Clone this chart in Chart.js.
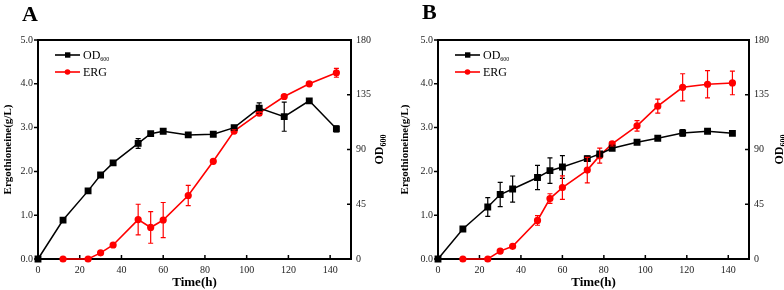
<!DOCTYPE html>
<html>
<head>
<meta charset="utf-8">
<script src="https://cdn.jsdelivr.net/npm/chart.js@4.4.1/dist/chart.umd.min.js"></script>
<style>
body { margin: 0; background: #fff; }
.panel { position: absolute; top: 0; width: 392px; height: 290px; }
#pa { left: 0; }
#pb { left: 392px; }
.tag { position: absolute; font: bold 22px "Liberation Serif", serif; line-height: 1; }
</style>
</head>
<body>
<div class="panel" id="pa"><canvas id="ca" width="392" height="290"></canvas></div>
<div class="panel" id="pb"><canvas id="cb" width="392" height="290"></canvas></div>
<div class="tag" style="left:22px;top:3px">A</div>
<div class="tag" style="left:422px;top:1px">B</div>
<script>
// Panel A data
const timeA_OD = [0, 12, 24, 30, 36, 48, 54, 60, 72, 84, 94, 106, 118, 130, 143];
const odA = [0, 32, 56, 69, 79, 95, 103, 105, 102, 102.5, 108, 124, 117, 130, 107];
const odA_err = [0, 2, 1, 1, 1.5, 4, 1, 1, 1, 1.5, 1.5, 4.4, 12, 1, 2.5];
const timeA_ERG = [12, 24, 30, 36, 48, 54, 60, 72, 84, 94, 106, 118, 130, 143];
const ergA = [0, 0, 0.14, 0.32, 0.90, 0.72, 0.89, 1.45, 2.23, 2.92, 3.33, 3.71, 4.00, 4.25];
const ergA_err = [0, 0, 0.04, 0.04, 0.35, 0.36, 0.40, 0.23, 0.02, 0.03, 0.03, 0.04, 0.05, 0.10];

// Panel B data
const timeB_OD = [0, 12, 24, 30, 36, 48, 54, 60, 72, 78, 84, 96, 106, 118, 130, 142];
const odB = [0, 24.7, 42.7, 53, 57.5, 67, 72.6, 75.6, 82.5, 86.3, 91, 96, 99.2, 103.6, 105, 103.3];
const odB_err = [0, 1, 7.7, 10, 10.7, 10, 10.5, 9.3, 2, 2, 1.5, 1, 1, 2.7, 0.5, 0.5];
const timeB_ERG = [12, 24, 30, 36, 48, 54, 60, 72, 78, 84, 96, 106, 118, 130, 142];
const ergB = [0, 0, 0.18, 0.29, 0.88, 1.38, 1.63, 2.03, 2.36, 2.63, 3.04, 3.49, 3.92, 3.99, 4.02];
const ergB_err = [0, 0, 0.04, 0.03, 0.11, 0.11, 0.27, 0.29, 0.17, 0.05, 0.12, 0.16, 0.31, 0.31, 0.27];

// Axis ticks
const timeTicks = [0, 20, 40, 60, 80, 100, 120, 140];
const ergTicks = [0, 1, 2, 3, 4, 5];
const odTicks = [0, 45, 90, 135, 180];

const SERIF = '"Liberation Serif", "Times New Roman", serif';

function pts(xs, ys) {
    return xs.map((x, i) => ({ x: x, y: ys[i] }));
}

// frame, ticks, error bars, legend, right title
const decor = {
    id: 'decor',
    beforeDatasetsDraw(chart) {
        const { ctx, chartArea: a, scales } = chart;
        ctx.save();
        ctx.strokeStyle = '#000';
        ctx.lineWidth = 2;
        ctx.strokeRect(a.left, a.top, a.right - a.left, a.bottom - a.top);
        ctx.lineWidth = 1.5;
        ctx.beginPath();
        timeTicks.forEach(t => {
            const x = scales.x.getPixelForValue(t);
            ctx.moveTo(x, a.bottom); ctx.lineTo(x, a.bottom - 4);
        });
        ergTicks.forEach(t => {
            const y = scales.y.getPixelForValue(t);
            ctx.moveTo(a.left, y); ctx.lineTo(a.left - 4, y);
        });
        odTicks.forEach(t => {
            const y = scales.y1.getPixelForValue(t);
            ctx.moveTo(a.right, y); ctx.lineTo(a.right - 4, y);
        });
        ctx.stroke();
        ctx.restore();
    },
    afterDatasetsDraw(chart) {
        const { ctx, chartArea: a, scales } = chart;
        ctx.save();
        chart.data.datasets.forEach(ds => {
            const ys = scales[ds.yAxisID];
            ctx.strokeStyle = ds.borderColor;
            ctx.lineWidth = 1.2;
            ctx.beginPath();
            ds.data.forEach((p, j) => {
                const e = ds.err[j];
                if (!e) return;
                const x = scales.x.getPixelForValue(p.x);
                const yt = ys.getPixelForValue(p.y + e);
                const yb = ys.getPixelForValue(p.y - e);
                ctx.moveTo(x, yt); ctx.lineTo(x, yb);
                ctx.moveTo(x - 2.5, yt); ctx.lineTo(x + 2.5, yt);
                ctx.moveTo(x - 2.5, yb); ctx.lineTo(x + 2.5, yb);
            });
            ctx.stroke();
        });

        // legend
        const lx = a.left + 17;
        const rows = [
            { color: '#000', style: 'rect', y: a.top + 15, text: 'OD', sub: '600' },
            { color: '#ff0000', style: 'circle', y: a.top + 32, text: 'ERG', sub: '' }
        ];
        rows.forEach(r => {
            ctx.strokeStyle = r.color;
            ctx.fillStyle = r.color;
            ctx.lineWidth = 1.6;
            ctx.beginPath();
            ctx.moveTo(lx, r.y); ctx.lineTo(lx + 25, r.y);
            ctx.stroke();
            if (r.style === 'rect') {
                ctx.fillRect(lx + 10, r.y - 2.7, 5.4, 5.4);
            } else {
                ctx.beginPath();
                ctx.arc(lx + 12.5, r.y, 2.8, 0, Math.PI * 2);
                ctx.fill();
            }
            ctx.fillStyle = '#000';
            ctx.font = '12px ' + SERIF;
            ctx.textBaseline = 'middle';
            ctx.textAlign = 'left';
            ctx.fillText(r.text, lx + 28, r.y + 1);
            if (r.sub) {
                const w = ctx.measureText(r.text).width;
                ctx.font = '6px ' + SERIF;
                ctx.fillText(r.sub, lx + 28 + w, r.y + 4);
            }
        });

        // right axis title OD600
        const opt = chart.options.plugins.decor;
        ctx.translate(a.right + opt.rightTitleOffset, (a.top + a.bottom) / 2);
        ctx.rotate(-Math.PI / 2);
        ctx.fillStyle = '#000';
        ctx.font = 'bold 12px ' + SERIF;
        ctx.textBaseline = 'middle';
        const w1 = ctx.measureText('OD').width;
        ctx.font = 'bold 8px ' + SERIF;
        const w2 = ctx.measureText('600').width;
        const sx = -(w1 + w2) / 2;
        ctx.font = 'bold 12px ' + SERIF;
        ctx.textAlign = 'left';
        ctx.fillText('OD', sx, 0);
        ctx.font = 'bold 8px ' + SERIF;
        ctx.fillText('600', sx + w1, 4);
        ctx.restore();
    }
};

function makeChart(id, tOD, od, odErr, tERG, erg, ergErr, layout) {
    const ctx = document.getElementById(id).getContext('2d');
    return new Chart(ctx, {
        type: 'line',
        data: {
            datasets: [
                {
                    label: 'OD600',
                    data: pts(tOD, od),
                    err: odErr,
                    yAxisID: 'y1',
                    borderColor: '#000',
                    backgroundColor: '#000',
                    borderWidth: 1.5,
                    pointStyle: 'rect',
                    pointRadius: 3.8,
                    pointHoverRadius: 3.8,
                    clip: false
                },
                {
                    label: 'ERG',
                    data: pts(tERG, erg),
                    err: ergErr,
                    yAxisID: 'y',
                    borderColor: '#ff0000',
                    backgroundColor: '#ff0000',
                    borderWidth: 1.6,
                    pointStyle: 'circle',
                    pointRadius: 2.8,
                    pointHoverRadius: 2.8,
                    clip: false
                }
            ]
        },
        options: {
            responsive: false,
            animation: false,
            events: [],
            layout: { padding: { top: 40, left: 0, right: 0, bottom: 0 } },
            plugins: {
                legend: { display: false },
                tooltip: { enabled: false },
                decor: { rightTitleOffset: layout.rightTitle }
            },
            scales: {
                x: {
                    type: 'linear',
                    min: 0,
                    max: 150,
                    afterBuildTicks: s => { s.ticks = timeTicks.map(v => ({ value: v })); },
                    afterFit: s => { s.height = 31; },
                    grid: { display: false, drawTicks: false },
                    border: { display: false },
                    ticks: { padding: 5, color: '#222', font: { family: SERIF, size: 10 } },
                    title: {
                        display: true,
                        text: 'Time(h)',
                        color: '#000',
                        padding: { top: 0, bottom: 0 },
                        font: { family: SERIF, size: 13, weight: 'bold' }
                    }
                },
                y: {
                    position: 'left',
                    min: 0,
                    max: 5,
                    afterBuildTicks: s => { s.ticks = ergTicks.map(v => ({ value: v })); },
                    afterFit: s => { s.width = layout.left; },
                    grid: { display: false, drawTicks: false },
                    border: { display: false },
                    ticks: {
                        padding: 5,
                        color: '#222',
                        font: { family: SERIF, size: 10 },
                        callback: v => v.toFixed(1)
                    },
                    title: {
                        display: true,
                        text: 'Ergothioneine(g/L)',
                        color: '#000',
                        padding: { top: layout.leftTitlePad, bottom: 0 },
                        font: { family: SERIF, size: 11, weight: 'bold' }
                    }
                },
                y1: {
                    position: 'right',
                    min: 0,
                    max: 180,
                    afterBuildTicks: s => { s.ticks = odTicks.map(v => ({ value: v })); },
                    afterFit: s => { s.width = layout.right; },
                    grid: { display: false, drawTicks: false },
                    border: { display: false },
                    ticks: { padding: 5, color: '#222', font: { family: SERIF, size: 10 } }
                }
            }
        },
        plugins: [decor]
    });
}

makeChart('ca', timeA_OD, odA, odA_err, timeA_ERG, ergA, ergA_err,
    { left: 38, right: 41, rightTitle: 29, leftTitlePad: 2 });
makeChart('cb', timeB_OD, odB, odB_err, timeB_ERG, ergB, ergB_err,
    { left: 46, right: 35, rightTitle: 31, leftTitlePad: 7 });
</script>
</body>
</html>
